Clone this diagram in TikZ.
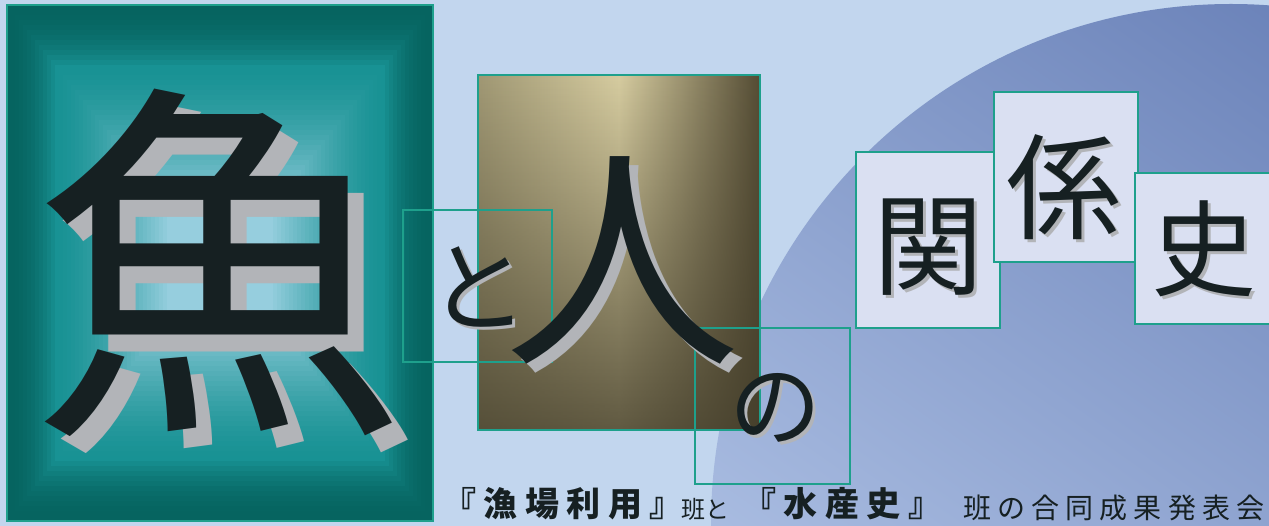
\documentclass[tikz,border=0pt]{standalone}
\usepackage{fontspec}
\newfontfamily\cjk{Noto Sans CJK JP}
\usetikzlibrary{fadings}

\definecolor{bgblue}{RGB}{194,214,238}
\definecolor{circblue}{RGB}{102,126,182}
\definecolor{circlight}{RGB}{186,204,236}
\definecolor{tealdark}{RGB}{6,100,96}
\definecolor{tealmid}{RGB}{24,146,148}
\definecolor{teallight}{RGB}{150,206,222}
\definecolor{boxline}{RGB}{30,160,140}
\definecolor{panelfill}{RGB}{218,224,242}
\definecolor{inkdark}{RGB}{22,32,34}
\definecolor{shadowgray}{RGB}{178,180,184}
\definecolor{goldlight}{RGB}{214,204,160}
\definecolor{goldmid}{RGB}{160,152,116}
\definecolor{golddark}{RGB}{84,76,52}

\tikzset{
  tealbox/.style={draw=boxline, line width=2.4pt, inner sep=0pt},
  glyph/.style={inner sep=0pt, text=inkdark},
  glyphshadow/.style={inner sep=0pt, text=shadowgray},
}

\begin{document}
\begin{tikzpicture}[x=1pt,y=-1pt]
  \useasboundingbox (0,0) rectangle (1269,526);

  % Background
  \fill[bgblue] (0,0) rectangle (1269,526);
  \begin{scope}
    \clip (0,0) rectangle (1269,526);
    \shade[top color=circblue, bottom color=circlight, shading angle=-35] (1231,524) circle (520);
  \end{scope}

  % Left panel (fish)
  \foreach \i in {0,...,12}{
    \pgfmathsetmacro{\p}{100*(\i/12)^2}
    \fill[tealmid!\p!tealdark] (7+\i*4,5+\i*5) rectangle (433-\i*4,521-\i*5);
  }
  \foreach \i in {13,...,40}{
    \pgfmathsetmacro{\p}{100*((\i-12)/28)^1.5}
    \fill[teallight!\p!tealmid] (7+\i*4,5+\i*5) rectangle (433-\i*4,521-\i*5);
  }
  \draw[boxline, line width=2pt] (7,5) rectangle (433,521);

  % Middle panel (person)
  \shade[left color=goldmid, right color=golddark, middle color=goldlight] (478,75) rectangle (760,430);
  \fill[golddark!80!black, path fading=north, fill opacity=0.8] (478,75) rectangle (760,430);
  \draw[boxline, line width=2.4pt] (478,75) rectangle (760,430);

  % Outline boxes
  \node[tealbox, minimum width=149pt, minimum height=152pt] (boxTo) at (477.5,286) {};
  \node[tealbox, minimum width=155pt, minimum height=156pt] (boxNo) at (772.5,406) {};

  % Title boxes
  \node[tealbox, fill=panelfill, minimum width=144pt, minimum height=176pt] (boxKan) at (928,240) {};
  \node[tealbox, fill=panelfill, minimum width=144pt, minimum height=170pt] (boxKei) at (1066,177) {};
  \node[tealbox, fill=panelfill, minimum width=140pt, minimum height=151pt] (boxShi) at (1205,248.5) {};

  % Big characters with shadows
  \node[glyphshadow, font=\cjk\fontsize{375}{375}\selectfont] (uoS) at (234,280) {魚};
  \node[glyph, font=\cjk\fontsize{375}{375}\selectfont] (uo) at (218,263) {魚};
  \node[glyphshadow, font=\cjk\fontsize{236}{236}\selectfont] (hitoS) at (631,269) {人};
  \node[glyph, font=\cjk\fontsize{236}{236}\selectfont] (hito) at (622,260) {人};
  \node[glyphshadow, font=\cjk\fontsize{100}{100}\selectfont] (toS) at (481,290) {と};
  \node[glyph, font=\cjk\fontsize{100}{100}\selectfont] (to) at (478,287) {と};
  \node[glyphshadow, font=\cjk\fontsize{92}{92}\selectfont] (noS) at (778,411) {の};
  \node[glyph, font=\cjk\fontsize{92}{92}\selectfont] (no) at (775,408) {の};

  % Title characters
  \node[glyphshadow, font=\cjk\fontsize{110}{110}\selectfont] (kanS) at (931,250) {関};
  \node[glyph, font=\cjk\fontsize{110}{110}\selectfont] (kan) at (928,247) {関};
  \node[glyphshadow, font=\cjk\fontsize{115}{115}\selectfont] (keiS) at (1067,190) {係};
  \node[glyph, font=\cjk\fontsize{115}{115}\selectfont] (kei) at (1064,187) {係};
  \node[glyphshadow, font=\cjk\fontsize{105}{105}\selectfont] (shiS) at (1207,252) {史};
  \node[glyph, font=\cjk\fontsize{105}{105}\selectfont] (shi) at (1204,249) {史};

  % Subtitle
  \node[glyph, anchor=base west, font=\cjk\bfseries\fontsize{34}{34}\selectfont\addfontfeature{LetterSpace=22}] (sub1) at (442,516) {『漁場利用』};
  \node[glyph, anchor=base west, font=\cjk\fontsize{24}{24}\selectfont] (sub2) at (681,518) {班と};
  \node[glyph, anchor=base west, font=\cjk\bfseries\fontsize{34}{34}\selectfont\addfontfeature{LetterSpace=22}] (sub3) at (742,516) {『水産史』};
  \node[glyph, anchor=base west, font=\cjk\fontsize{28}{28}\selectfont\addfontfeature{LetterSpace=22}] (sub4) at (963,518) {班の合同成果発表会};
\end{tikzpicture}
\end{document}
